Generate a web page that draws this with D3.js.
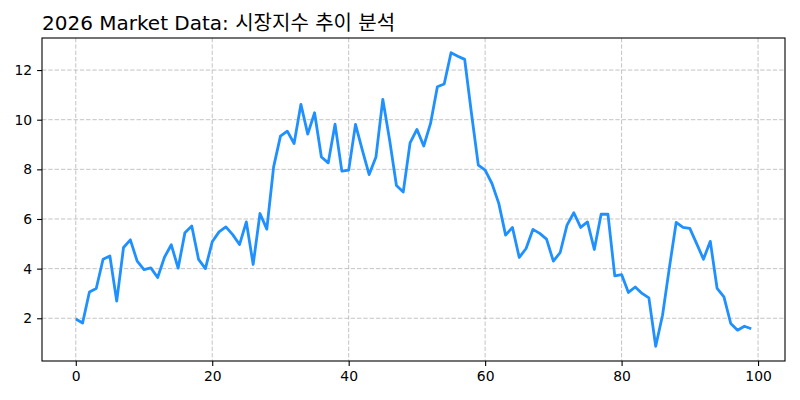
<!DOCTYPE html>
<html>
<head>
<meta charset="utf-8">
<script src="https://cdn.jsdelivr.net/npm/d3@7"></script>
<style>
  body { margin: 0; background: #fff; }
  svg { display: block; }
  text { font-family: "DejaVu Sans", sans-serif; }
</style>
</head>
<body>
<div id="chart"></div>
<script>
const title = "2026 Market Data: 시장지수 추이 분석";

// one value per day index 0..99
const values = [
  1.97, 1.81, 3.06, 3.20, 4.38, 4.51, 2.69, 4.85, 5.16, 4.30,
  3.96, 4.03, 3.64, 4.46, 4.96, 4.02, 5.45, 5.72, 4.37, 4.00,
  5.08, 5.48, 5.68, 5.37, 4.97, 5.88, 4.17, 6.22, 5.59, 8.10,
  9.34, 9.54, 9.04, 10.62, 9.42, 10.28, 8.50, 8.26, 9.82, 7.93,
  7.97, 9.81, 8.77, 7.79, 8.50, 10.82, 9.18, 7.35, 7.09, 9.07,
  9.61, 8.94, 9.85, 11.33, 11.44, 12.70, 12.56, 12.43, 10.25, 8.17,
  7.97, 7.43, 6.63, 5.35, 5.66, 4.45, 4.81, 5.58, 5.42, 5.19,
  4.30, 4.65, 5.75, 6.25, 5.66, 5.88, 4.77, 6.19, 6.19, 3.71,
  3.76, 3.04, 3.26, 3.00, 2.82, 0.87, 2.12, 4.03, 5.86, 5.66,
  5.62, 5.01, 4.38, 5.10, 3.20, 2.86, 1.79, 1.52, 1.68, 1.58
];
const xTicks = [0, 20, 40, 60, 80, 100];
const yTicks = [2, 4, 6, 8, 10, 12];

const width = 800;
const height = 400;
const margin = { top: 38, right: 15, bottom: 39, left: 42 };

const data = values.map((v, i) => ({ x: i, y: v }));

// matplotlib style 5% padding on both axes
const xPad = (values.length - 1) * 0.05;
const yMin = d3.min(values), yMax = d3.max(values);
const yPad = (yMax - yMin) * 0.05;

const x = d3.scaleLinear()
  .domain([-xPad, values.length - 1 + xPad])
  .range([margin.left, width - margin.right]);
const y = d3.scaleLinear()
  .domain([yMin - yPad, yMax + yPad])
  .range([height - margin.bottom, margin.top]);

const svg = d3.select("#chart").append("svg")
  .attr("width", width)
  .attr("height", height);

// grid
const grid = svg.append("g")
  .attr("stroke", "#b0b0b0")
  .attr("stroke-opacity", 0.75)
  .attr("stroke-width", 1)
  .attr("stroke-dasharray", "4.4,1.9");
grid.selectAll(".gx").data(xTicks).join("line")
  .attr("x1", d => x(d)).attr("x2", d => x(d))
  .attr("y1", margin.top).attr("y2", height - margin.bottom);
grid.selectAll(".gy").data(yTicks).join("line")
  .attr("x1", margin.left).attr("x2", width - margin.right)
  .attr("y1", d => y(d)).attr("y2", d => y(d));

// the series
const line = d3.line().x(d => x(d.x)).y(d => y(d.y));
svg.append("path")
  .datum(data)
  .attr("fill", "none")
  .attr("stroke", "#1e90ff")
  .attr("stroke-width", 2.8)
  .attr("stroke-linejoin", "round")
  .attr("d", line);

// axes
const xAxis = svg.append("g")
  .attr("transform", `translate(0,${height - margin.bottom})`)
  .call(d3.axisBottom(x).tickValues(xTicks).tickSize(4.9).tickPadding(5));
const yAxis = svg.append("g")
  .attr("transform", `translate(${margin.left},0)`)
  .call(d3.axisLeft(y).tickValues(yTicks).tickSize(4.9).tickPadding(5));

[xAxis, yAxis].forEach(g => {
  g.select(".domain").remove();
  g.selectAll("line").attr("stroke", "#000").attr("stroke-width", 1.1);
  g.selectAll("text")
    .attr("fill", "#000")
    .style("font-family", "'DejaVu Sans', sans-serif")
    .style("font-size", "13.9px");
});

// frame
svg.append("rect")
  .attr("x", margin.left)
  .attr("y", margin.top)
  .attr("width", width - margin.left - margin.right)
  .attr("height", height - margin.top - margin.bottom)
  .attr("fill", "none")
  .attr("stroke", "#000")
  .attr("stroke-width", 1.1);

svg.append("text")
  .attr("x", margin.left)
  .attr("y", 30)
  .attr("font-size", 20)
  .style("font-family", "'DejaVu Sans', 'Noto Sans CJK KR', sans-serif")
  .text(title);
</script>
</body>
</html>
